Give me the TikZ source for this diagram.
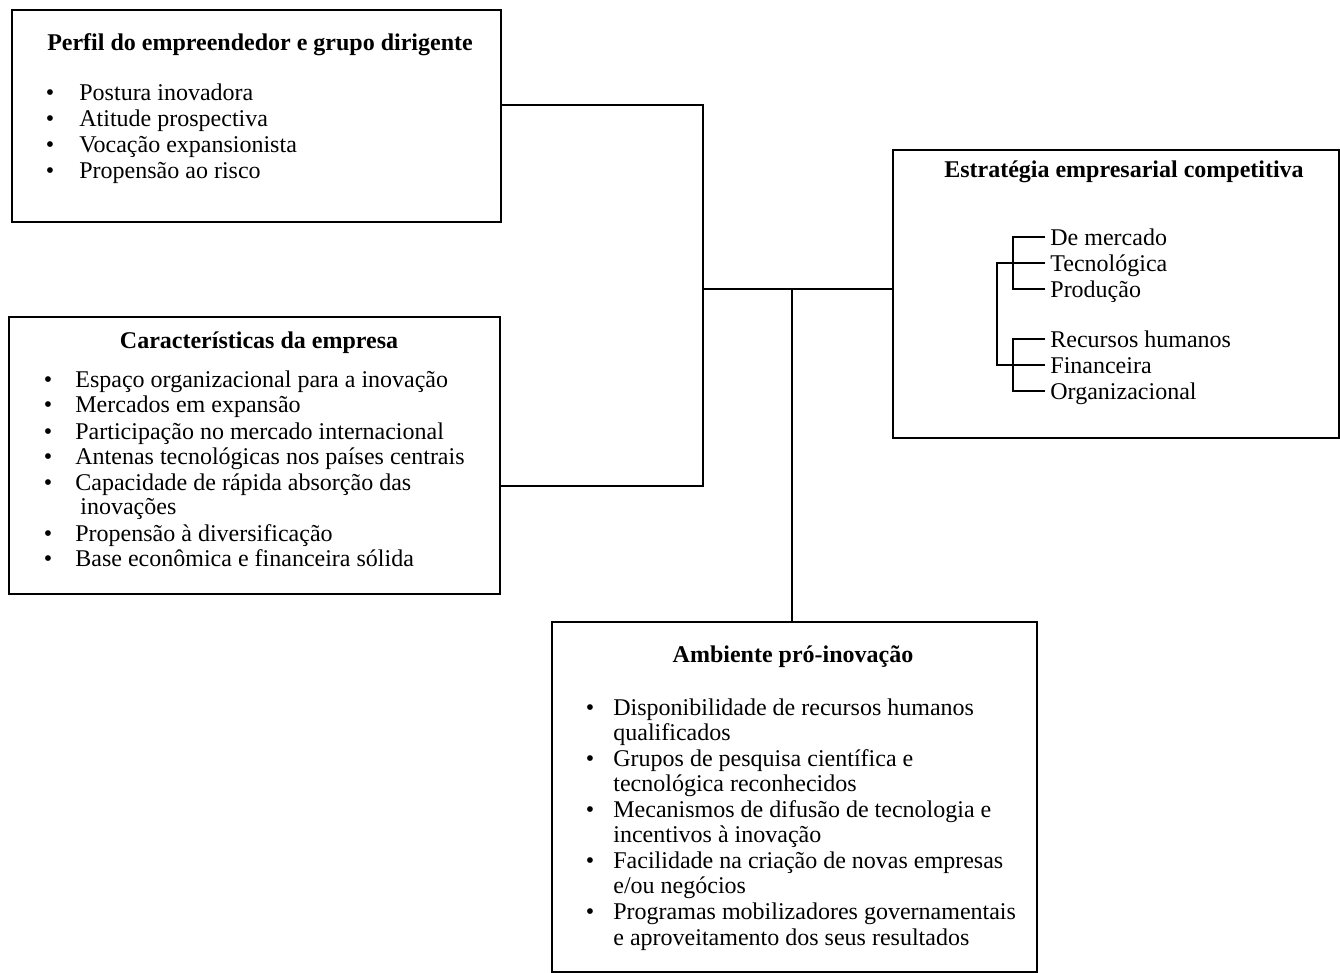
\documentclass[tikz,border=0pt]{standalone}
\usepackage{fontspec}
\setmainfont{Liberation Serif}
\usetikzlibrary{fit,calc}
\begin{document}
\begin{tikzpicture}[x=0.5pt,y=-0.5pt,
  box/.style={draw, line width=1.2pt, inner sep=0pt},
  link/.style={line width=0.75pt},
  brk/.style={line width=0.6pt},
  ttl/.style={font=\bfseries\fontsize{12}{13}\selectfont, anchor=base, inner sep=0pt},
  itm/.style={font=\fontsize{12}{13}\selectfont, anchor=base west, inner sep=0pt},
  bul/.style={font=\fontsize{12}{13}\selectfont, anchor=base, inner sep=0pt}]
\useasboundingbox (0,0) rectangle (1340,973);

% ---------- boxes ----------
\coordinate (b1a) at (12,10);   \coordinate (b1b) at (501,222);
\coordinate (b2a) at (9,317);   \coordinate (b2b) at (500,594);
\coordinate (b3a) at (893,150); \coordinate (b3b) at (1339,438);
\coordinate (b4a) at (552,622); \coordinate (b4b) at (1037,972);
\node[box, fit=(b1a)(b1b)] (box1) {};
\node[box, fit=(b2a)(b2b)] (box2) {};
\node[box, fit=(b3a)(b3b)] (box3) {};
\node[box, fit=(b4a)(b4b)] (box4) {};

% ---------- box 1 ----------
\node[ttl] (t1) at (260,51) {Perfil do empreendedor e grupo dirigente};
\foreach \t [count=\i] in {Postura inovadora, Atitude prospectiva, Vocação expansionista, Propensão ao risco}{
  \node[bul] (p\i) at (50,{75+26*\i}) {•};
  \node[itm] (a\i) at (79,{75+26*\i}) {\t};
}

% ---------- box 2 ----------
\node[ttl] (t2) at (259,349) {Características da empresa};
\foreach \t/\y [count=\i] in {Espaço organizacional para a inovação/388, Mercados em expansão/413, Participação no mercado internacional/439, Antenas tecnológicas nos países centrais/465, Capacidade de rápida absorção das/490, Propensão à diversificação/541, Base econômica e financeira sólida/567}{
  \node[bul] (q\i) at (48,\y) {•};
  \node[itm] (c\i) at (75,\y) {\t};
}
\node[itm] (c5b) at (80,515) {inovações};

% ---------- box 3 ----------
\node[ttl] (t3) at (1124,178) {Estratégia empresarial competitiva};
\node[itm] (s1) at (1050,246) {De mercado};
\node[itm] (s2) at (1050,272) {Tecnológica};
\node[itm] (s3) at (1050,298) {Produção};
\node[itm] (s4) at (1050,348) {Recursos humanos};
\node[itm] (s5) at (1050,374) {Financeira};
\node[itm] (s6) at (1050,400) {Organizacional};
\foreach \k in {1,...,6}{
  \coordinate (e\k) at ([shift={(-5,-9)}]s\k.base west);
}
\draw[brk] (e1) -- (e1 -| 1013,0) -- (e3 -| 1013,0) -- (e3);
\draw[brk] (e4) -- (e4 -| 1013,0) -- (e6 -| 1013,0) -- (e6);
\draw[brk] (e2) -- (e2 -| 997,0) -- (e5 -| 997,0) -- (e5);

% ---------- box 4 ----------
\node[ttl] (t4) at (793,662) {Ambiente pró-inovação};
\foreach \t/\y [count=\i] in {Disponibilidade de recursos humanos/715, Grupos de pesquisa científica e/766, Mecanismos de difusão de tecnologia e/817, Facilidade na criação de novas empresas/868, Programas mobilizadores governamentais/919}{
  \node[bul] (r\i) at (590,\y) {•};
  \node[itm] (d\i) at (613,\y) {\t};
}
\node[itm] (d1b) at (613,740) {qualificados};
\node[itm] (d2b) at (613,791) {tecnológica reconhecidos};
\node[itm] (d3b) at (613,842) {incentivos à inovação};
\node[itm] (d4b) at (613,893) {e/ou negócios};
\node[itm] (d5b) at (613,945) {e aproveitamento dos seus resultados};

% ---------- connectors ----------
\coordinate (j1) at (703,105);
\coordinate (j2) at (703,486);
\coordinate (j3) at (703,289);
\coordinate (j4) at (792,289);
\draw[link] (box1.east |- j1) -- (j1) -- (j2) -- (box2.east |- j2);
\draw[link] (j3) -- (box3.west |- j3);
\draw[link] (j4) -- (box4.north -| j4);
\end{tikzpicture}
\end{document}
